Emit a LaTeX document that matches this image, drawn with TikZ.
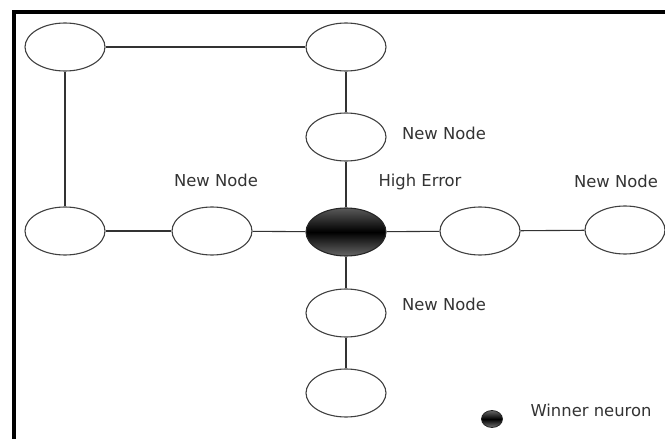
\documentclass[tikz,border=0pt]{standalone}
\usepackage{fontspec}
\setmainfont{DejaVu Sans}
\usetikzlibrary{shapes.geometric}
\begin{document}
\begin{tikzpicture}[x=1pt,y=-1pt,
  neuron/.style={ellipse,draw=black!75,line width=1.1pt,fill=white,
    minimum width=80pt,minimum height=48pt,inner sep=0pt},
  winner/.style={neuron,draw=black!85,top color=black!65,bottom color=black!60,middle color=black},
  link/.style={draw=black!80,line width=1.1pt},
  lbl/.style={anchor=base,inner sep=0pt,text=black!80,
    font=\fontsize{16.4}{18}\selectfont}]
\useasboundingbox (0,0) rectangle (665,439);
\clip (0,0) rectangle (665,439);
% frame
\draw[line width=4pt] (14,445) -- (14,12) -- (670,12);

% neurons
\node[neuron] (tl) at (65,47) {};
\node[neuron] (tm) at (346,47) {};
\node[neuron] (up) at (346,137) {};
\node[neuron] (l1) at (65,231) {};
\node[neuron] (l2) at (212,231) {};
\node[winner] (w) at (346,232) {};
\node[neuron] (r1) at (480,231) {};
\node[neuron] (r2) at (625,230) {};
\node[neuron] (d1) at (346,313) {};
\node[neuron] (d2) at (346,393) {};

% connections
\path[link] (tl) -- (tm);
\path[link] (tl) -- (l1);
\path[link] (tm) -- (up);
\path[link] (up) -- (w);
\path[link] (l1) -- (l2);
\path[link] (l2) -- (w);
\path[link] (w) -- (r1);
\path[link] (r1) -- (r2);
\path[link] (w) -- (d1);
\path[link] (d1) -- (d2);

% labels
\node[lbl] (tup) at (444,139) {New Node};
\node[lbl] (tl2) at (216,186) {New Node};
\node[lbl] (terr) at (420,186) {High Error};
\node[lbl] (tr2) at (616,187) {New Node};
\node[lbl] (td1) at (444,310) {New Node};

% legend
\node[ellipse,draw=black!85,line width=0.8pt,top color=black!60,bottom color=black!55,middle color=black,
  minimum width=21pt,minimum height=17pt,inner sep=0pt] (leg) at (492,419) {};
\node[lbl] (tleg) at (591,416) {Winner neuron};
\end{tikzpicture}
\end{document}
